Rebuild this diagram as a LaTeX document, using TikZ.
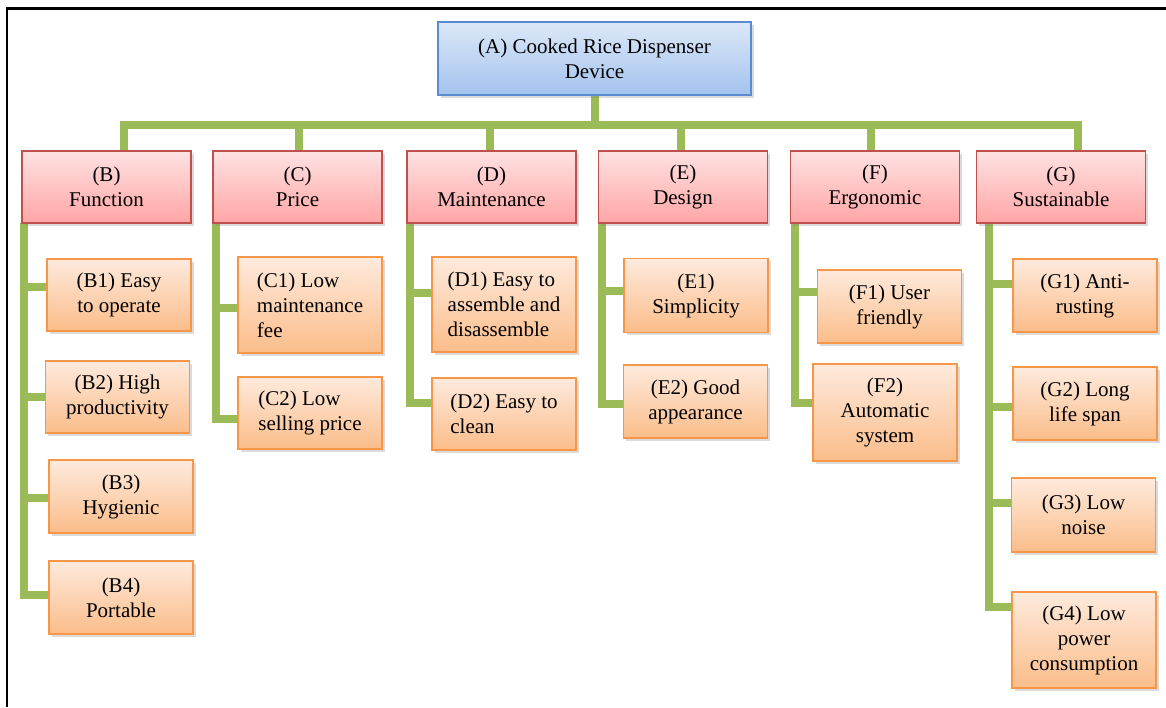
\documentclass[tikz,border=0pt]{standalone}
\usepackage{fontspec}
\setmainfont{LiberationSerif}[Extension=.ttf, UprightFont=*-Regular, BoldFont=*-Bold]
\usetikzlibrary{shadows,backgrounds}

\definecolor{rootTop}{HTML}{DCE8F8}
\definecolor{rootBot}{HTML}{A3C3EE}
\definecolor{rootLine}{HTML}{5A8AD0}
\definecolor{catTop}{HTML}{FFE2E2}
\definecolor{catBot}{HTML}{FFA5A5}
\definecolor{catLine}{HTML}{C0504D}
\definecolor{leafTop}{HTML}{FEEADD}
\definecolor{leafBot}{HTML}{FBBD8A}
\definecolor{leafLine}{HTML}{F79646}
\definecolor{connGreen}{HTML}{9BBB59}

\tikzset{
  box/.style={draw, line width=1.5pt, inner sep=0pt, outer sep=0pt, align=center,
    font=\rmfamily\fontsize{21}{25}\selectfont,
    drop shadow={shadow xshift=2.5pt, shadow yshift=-2.5pt, opacity=0.28}},
  rootbox/.style={box, draw=rootLine, top color=rootTop, bottom color=rootBot,
    minimum width=313pt, minimum height=73pt},
  catbox/.style={box, draw=catLine, top color=catTop, bottom color=catBot,
    minimum width=169pt, minimum height=72pt},
  leafbox/.style={box, draw=leafLine, top color=leafTop, bottom color=leafBot,
    minimum width=144pt, minimum height=72pt},
  conn/.style={draw=connGreen, line width=8pt},
}

\begin{document}
\begin{tikzpicture}[x=1pt,y=-1pt]
\useasboundingbox (0,0) rectangle (1166,707);

% root
\node[rootbox] (A) at (594.5,58.5) {(A) Cooked Rice Dispenser\\Device};

% categories
\node[catbox] (B) at (106.5,187) {(B)\\Function};
\node[catbox] (C) at (297.5,187) {(C)\\Price};
\node[catbox] (D) at (491.5,187) {(D)\\Maintenance};
\node[catbox] (E) at (683,187) {(E)\\Design};
\node[catbox] (F) at (875,187) {(F)\\Ergonomic};
\node[catbox] (G) at (1061,187) {(G)\\Sustainable};

% leaves
\node[leafbox] (B1) at (119,295) {(B1) Easy\\to operate};
\node[leafbox] (B2) at (117.5,397) {(B2) High\\productivity};
\node[leafbox, minimum height=73pt] (B3) at (121,496.5) {(B3)\\Hygienic};
\node[leafbox, minimum height=73pt] (B4) at (121,597.5) {(B4)\\Portable};

\node[leafbox, minimum height=96pt, align=left] (C1) at (310,305) {(C1) Low\\maintenance\\fee};
\node[leafbox, align=left] (C2) at (310,413) {(C2) Low\\selling price};

\node[leafbox, minimum height=95pt, align=left] (D1) at (504,304.5) {(D1) Easy to\\assemble and\\disassemble};
\node[leafbox, align=left] (D2) at (504,414) {(D2) Easy to\\clean};

\node[leafbox, minimum height=74pt] (E1) at (696,295.5) {(E1)\\Simplicity};
\node[leafbox, minimum height=73pt] (E2) at (695.5,401.5) {(E2) Good\\appearance};

\node[leafbox, minimum height=73pt] (F1) at (889.5,306.5) {(F1) User\\friendly};
\node[leafbox, minimum height=97pt] (F2) at (885,412.5) {(F2)\\Automatic\\system};

\node[leafbox, minimum height=73pt] (G1) at (1085,295.5) {(G1) Anti-\\rusting};
\node[leafbox, minimum height=73pt] (G2) at (1085,403.5) {(G2) Long\\life span};
\node[leafbox, minimum height=74pt] (G3) at (1083.5,515) {(G3) Low\\noise};
\node[leafbox, minimum height=96pt] (G4) at (1084,640) {(G4) Low\\power\\consumption};

\begin{pgfonlayer}{background}
  \fill[white] (0,0) rectangle (1166,707);
  % frame
  \draw[line width=2.5pt, line join=miter] (7,707) -- (7,8.5) -- (1166,8.5);

  % bar joining the categories
  \coordinate (tB) at (124,124.5);
  \coordinate (tC) at (299,124.5);
  \coordinate (tD) at (490,124.5);
  \coordinate (tE) at (681,124.5);
  \coordinate (tF) at (871,124.5);
  \coordinate (tG) at (1078,124.5);
  \draw[conn] (A.south) -- (A.south |- tB);
  \draw[conn] (tB |- B.north) -- (tB) -- (tG) -- (tG |- G.north);
  \foreach \c in {C,D,E,F} \draw[conn] (t\c) -- (t\c |- \c.north);

  % spines under each category
  \coordinate (vB) at ([xshift=1.5pt]B.south west);
  \coordinate (vC) at ([xshift=3pt]C.south west);
  \coordinate (vD) at ([xshift=2.5pt]D.south west);
  \coordinate (vE) at ([xshift=3pt]E.south west);
  \coordinate (vF) at ([xshift=4pt]F.south west);
  \coordinate (vG) at ([xshift=12pt]G.south west);

  % branch points on the leaf boxes
  \foreach \leaf/\dy/\spine in {B1/8/vB, B2/0/vB, B3/-1.5/vB, B4/2.5/vB,
      C1/-3/vC, C2/-6/vC, D1/11.5/vD, D2/11/vD, E1/5/vE, E2/-2.5/vE,
      F1/14.5/vF, F2/9.5/vF, G1/11.5/vG, G2/-3.5/vG, G3/12/vG, G4/33/vG}{
    \coordinate (\leaf tip) at ([yshift=\dy pt]\leaf.west);
    \draw[conn] (\spine) |- (\leaf tip);
  }
\end{pgfonlayer}
\end{tikzpicture}
\end{document}
